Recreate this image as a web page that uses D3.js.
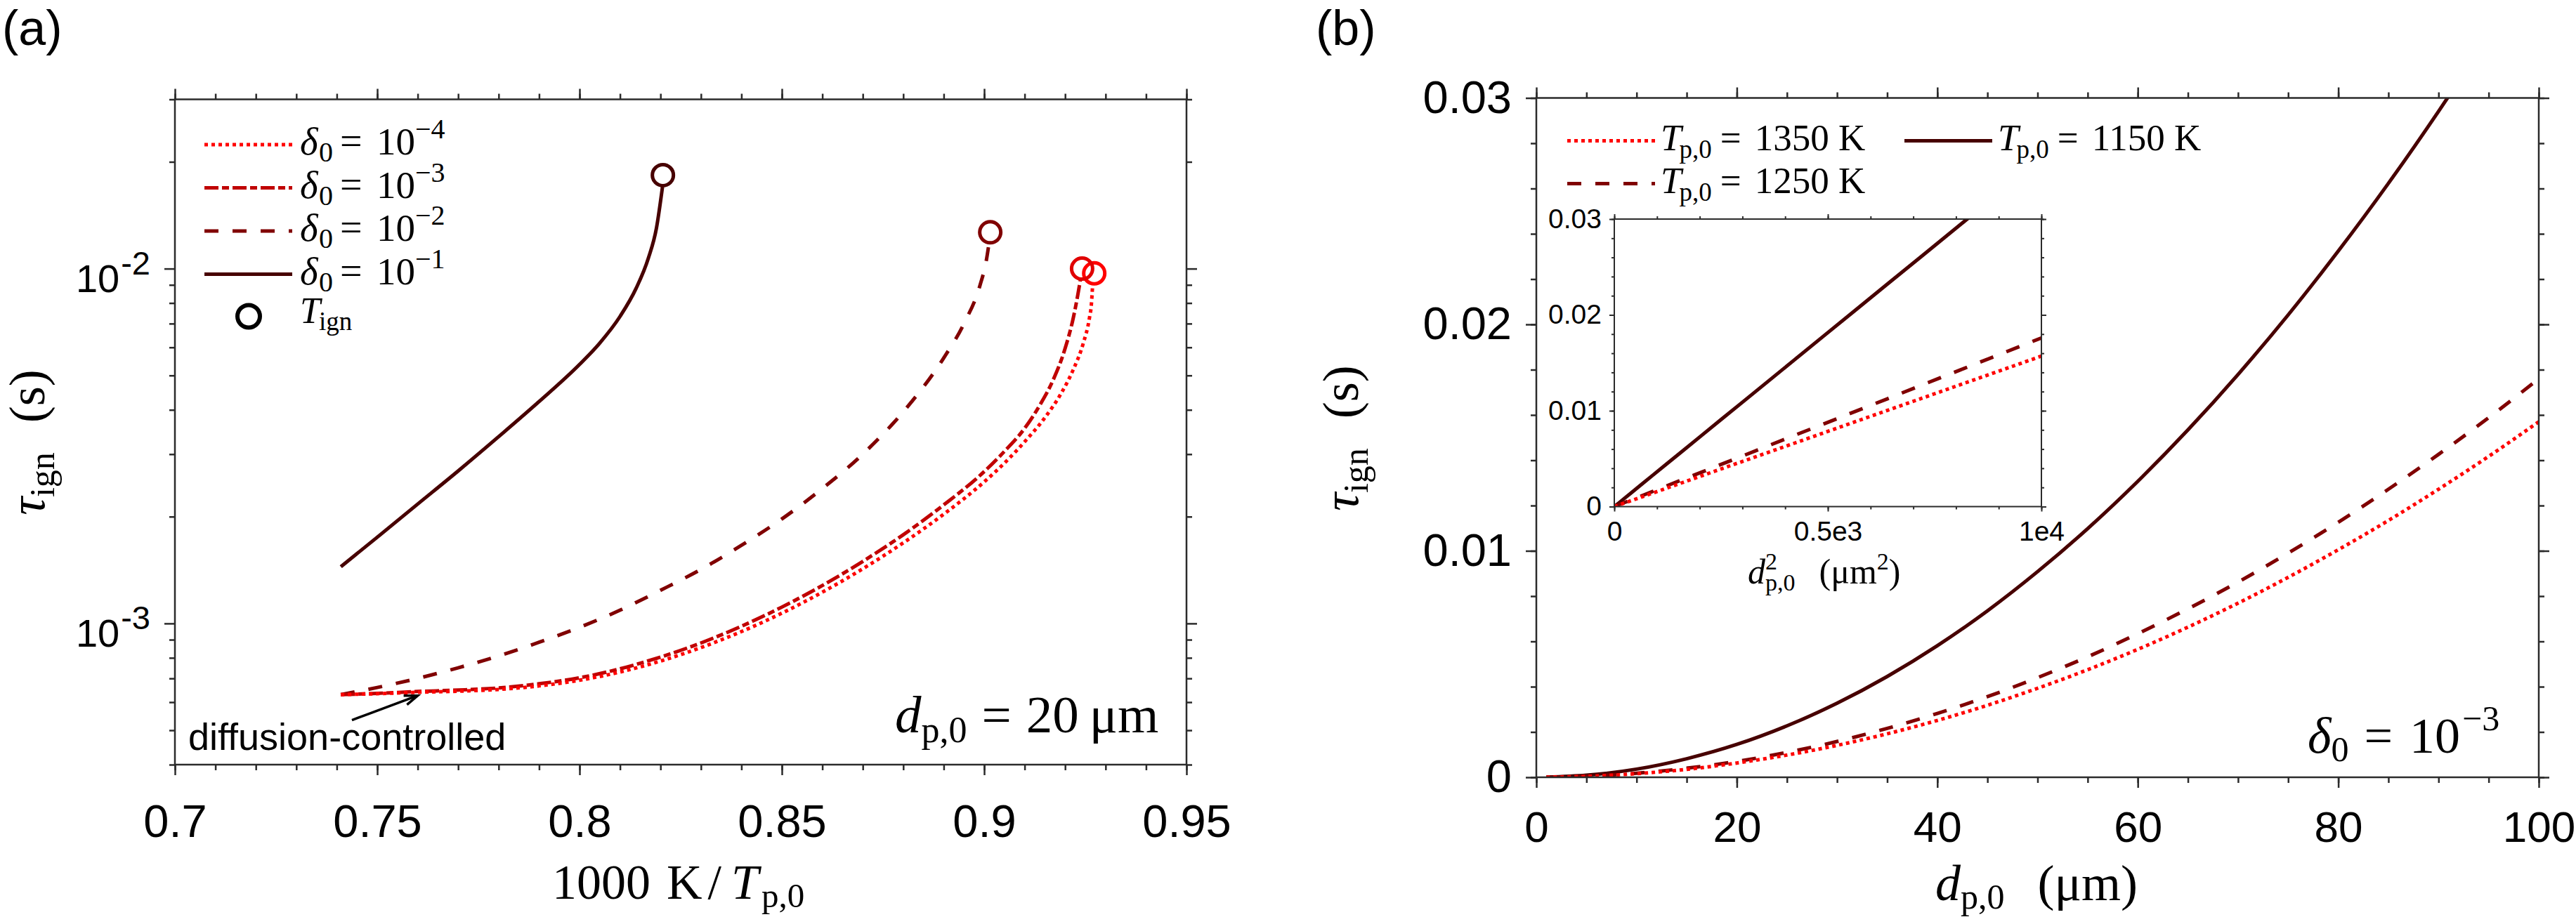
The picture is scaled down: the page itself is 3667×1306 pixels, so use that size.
<!DOCTYPE html>
<html><head><meta charset="utf-8">
<script src="https://cdn.jsdelivr.net/npm/d3@7"></script>
<style>
html,body{margin:0;padding:0;background:#fff;}
svg{display:block;}
text{white-space:pre;}
</style></head><body>
<svg id="chart" width="3667" height="1306"></svg>
<script>
// ---------------- Panel (a): x = 1000 K / T_p,0, y = tau_ign (s), log ----------------
const aX_m4 = [0.741,0.75,0.76,0.77,0.78,0.79,0.80,0.81,0.82,0.83,0.84,0.85,0.86,0.87,0.88,0.89,0.90,0.905,0.91,0.915,0.919,0.922,0.9245,0.926,0.9265,0.9268];
const aY_m4 = [6.3e-4,6.339e-4,6.397e-4,6.442e-4,6.516e-4,6.668e-4,6.918e-4,7.295e-4,7.834e-4,8.551e-4,9.484e-4,1.069e-3,1.225e-3,1.426e-3,1.687e-3,2.032e-3,2.506e-3,2.831e-3,3.251e-3,3.802e-3,4.446e-3,5.188e-3,6.166e-3,7.244e-3,7.943e-3,8.995e-3];
const aX_m3 = [0.741,0.75,0.76,0.77,0.78,0.79,0.80,0.81,0.82,0.83,0.84,0.85,0.86,0.87,0.88,0.89,0.90,0.905,0.91,0.914,0.917,0.92,0.922,0.9232,0.9238];
const aY_m3 = [6.3e-4,6.353e-4,6.43e-4,6.49e-4,6.58e-4,6.76e-4,7.03e-4,7.45e-4,8.04e-4,8.81e-4,9.82e-4,1.112e-3,1.279e-3,1.496e-3,1.778e-3,2.158e-3,2.679e-3,3.055e-3,3.548e-3,4.169e-3,4.842e-3,5.957e-3,7.244e-3,8.511e-3,9.333e-3];
const aX_m2 = [0.741,0.75,0.76,0.77,0.78,0.79,0.80,0.81,0.82,0.83,0.84,0.85,0.86,0.87,0.88,0.89,0.895,0.899,0.9005,0.9012];
const aY_m2 = [6.3e-4,6.6e-4,7.0e-4,7.5e-4,8.1e-4,8.85e-4,9.75e-4,1.09e-3,1.24e-3,1.42e-3,1.66e-3,1.97e-3,2.4e-3,3.0e-3,3.95e-3,5.6e-3,7.0e-3,9.0e-3,1.05e-2,1.18e-2];
const aX_m1 = [0.741,0.75,0.76,0.77,0.78,0.79,0.80,0.805,0.81,0.814,0.817,0.819,0.8205];
const aY_m1 = [1.445e-3,1.75e-3,2.17e-3,2.69e-3,3.36e-3,4.22e-3,5.37e-3,6.17e-3,7.33e-3,8.81e-3,1.07e-2,1.30e-2,1.70e-2];
// ignition points (circles), order: 1e-4, 1e-3, 1e-2, 1e-1
const ignX = [0.9272, 0.9242, 0.9015, 0.8206];
const ignY = [9.7e-3, 1.0e-2, 1.266e-2, 1.834e-2];
const aLegendExp = ["−4","−3","−2","−1"];
const aXTicks = [0.7,0.75,0.8,0.85,0.9,0.95];
const aXTickLabels = ["0.7","0.75","0.8","0.85","0.9","0.95"];
const aXMinor = [0.70,0.71,0.72,0.73,0.74,0.75,0.76,0.77,0.78,0.79,0.80,0.81,0.82,0.83,0.84,0.85,0.86,0.87,0.88,0.89,0.90,0.91,0.92,0.93,0.94,0.95];
const aYTicks = [1e-3, 1e-2];
const aYTickExp = ["-3","-2"];
const aYMinor = [4e-4,5e-4,6e-4,7e-4,8e-4,9e-4,2e-3,3e-3,4e-3,5e-3,6e-3,7e-3,8e-3,9e-3,2e-2,3e-2];

// ---------------- Panel (b): x = d_p,0 (um), y = tau_ign (s) ----------------
const bD = [1,5,10,15,20,25,30,35,40,45,50,55,60,65,70,75,80,85,90,95,100];
const b1350 = [0.000002,0.00004,0.00016,0.00035,0.00063,0.00098,0.00141,0.00192,0.00251,0.00318,0.00393,0.00475,0.00565,0.00663,0.00769,0.00883,0.01005,0.01134,0.01272,0.01417,0.0157];
const b1250 = [0.000002,0.00004,0.00018,0.0004,0.0007,0.0011,0.00158,0.00216,0.00282,0.00356,0.0044,0.00532,0.00634,0.00744,0.00862,0.0099,0.01126,0.01272,0.01426,0.01588,0.0176];
const b1150 = [0.000004,0.00009,0.00036,0.00082,0.00145,0.00227,0.00327,0.00445,0.00581,0.00735,0.00908,0.01098,0.01307,0.01534,0.01779,0.02042,0.02324,0.02623,0.02941,0.03277,0.03631];
const bXTicks = [0,20,40,60,80,100];
const bXMinor = [0,5,10,15,20,25,30,35,40,45,50,55,60,65,70,75,80,85,90,95,100];
const bYTicks = [0,0.01,0.02,0.03];
const bYTickLabels = ["0","0.01","0.02","0.03"];
const bYMinor = [0,0.002,0.004,0.006,0.008,0.01,0.012,0.014,0.016,0.018,0.02,0.022,0.024,0.026,0.028,0.03];
const iXTicks = [0,5000,10000];
const iXTickLabels = ["0","0.5e3","1e4"];
const iXMinor = [0,1000,2000,3000,4000,5000,6000,7000,8000,9000,10000];

// ---------------- styles ----------------
const SANS = "'Liberation Sans', Arial, sans-serif";
const SERIF = "'Liberation Serif', 'Times New Roman', serif";
const AXC = "#2b2b2b";
const COL = {m4:"#ff0000", m3:"#c00000", m2:"#800000", m1:"#470000"};
const DASH = {dot:"5,5", dashdot:"20,5,10,5", dash:"20,20", solid:null};
const LW = 5;

const svg = d3.select("#chart");
svg.append("rect").attr("width",3667).attr("height",1306).attr("fill","#fff");

function rich(sel, parts) {
  let cur = 0;
  parts.forEach(p => {
    const ts = sel.append("tspan").text(p.t).attr("font-size", p.s);
    if (p.i) ts.attr("font-style","italic");
    const sh = p.sh || 0;
    if (sh - cur !== 0) ts.attr("dy", sh - cur);
    cur = sh;
    if (p.x !== undefined) ts.attr("x", p.x);
    if (p.dx) ts.attr("dx", p.dx);
  });
  return sel;
}

function axes(g, xs, ys, box, cfg) {
  const st = s => { s.select(".domain").remove(); s.selectAll("line").attr("stroke", AXC).attr("stroke-width", cfg.tw); };
  const sides = [
    [d3.axisBottom, xs, `translate(0,${box.b})`, cfg.xMinor, cfg.xMajor],
    [d3.axisTop, xs, `translate(0,${box.t})`, cfg.xMinor, cfg.xMajor],
    [d3.axisLeft, ys, `translate(${box.l},0)`, cfg.yMinor, cfg.yMajor],
    [d3.axisRight, ys, `translate(${box.r},0)`, cfg.yMinor, cfg.yMajor]];
  sides.forEach(([fn, sc, tr, mn, mj]) => {
    g.append("g").attr("transform", tr).call(fn(sc).tickValues(mn).tickSize(cfg.minorLen).tickFormat("")).call(st);
    g.append("g").attr("transform", tr).call(fn(sc).tickValues(mj).tickSize(cfg.majorLen).tickFormat("")).call(st);
  });
  g.append("rect").attr("x",box.l).attr("y",box.t).attr("width",box.r-box.l).attr("height",box.b-box.t)
    .attr("fill","none").attr("stroke",AXC).attr("stroke-width",cfg.fw);
}
function styleLabels(s, fs) {
  s.select(".domain").remove();
  s.selectAll("line").remove();
  s.selectAll("text").attr("font-family", SANS).attr("font-size", fs).attr("fill", "#000");
}

// ======================= PANEL (a) =======================
const A = {l:249, r:1689, t:141.5, b:1089};
const xA = d3.scaleLinear().domain([0.7,0.95]).range([A.l,A.r]);
const yA = d3.scaleLog().domain([4e-4,3e-2]).range([A.b,A.t]);
const gA = svg.append("g");

svg.append("text").attr("x",3).attr("y",64).attr("font-family",SANS).attr("font-size",70).text("(a)");

const lineA = d3.line().x(d=>xA(d[0])).y(d=>yA(d[1])).curve(d3.curveMonotoneX);
const seriesA = [
  {x:aX_m1, y:aY_m1, c:COL.m1, d:DASH.solid},
  {x:aX_m2, y:aY_m2, c:COL.m2, d:DASH.dash},
  {x:aX_m3, y:aY_m3, c:COL.m3, d:DASH.dashdot},
  {x:aX_m4, y:aY_m4, c:COL.m4, d:DASH.dot}];
seriesA.forEach(s => {
  gA.append("path").datum(s.x.map((v,i)=>[v,s.y[i]])).attr("d", lineA)
    .attr("fill","none").attr("stroke",s.c).attr("stroke-width",LW).attr("stroke-dasharray",s.d);
});
const ignCol = [COL.m4, "#e00000", COL.m2, COL.m1];
gA.selectAll("circle.ign").data(ignX).join("circle").attr("class","ign")
  .attr("cx",d=>xA(d)).attr("cy",(d,i)=>yA(ignY[i])).attr("r",15)
  .attr("fill","none").attr("stroke",(d,i)=>ignCol[i]).attr("stroke-width",5);

axes(gA, xA, yA, A, {xMinor:aXMinor, xMajor:aXTicks, yMinor:aYMinor, yMajor:aYTicks, minorLen:8, majorLen:15, tw:2.5, fw:2.5});
gA.append("g").attr("transform",`translate(0,${A.b})`)
  .call(d3.axisBottom(xA).tickValues(aXTicks).tickSize(0).tickPadding(57).tickFormat((d,i)=>aXTickLabels[i]))
  .call(s=>styleLabels(s,65));
aYTicks.forEach((v,i) => {
  const t = gA.append("text").attr("x",A.l-35).attr("y",yA(v)+33).attr("text-anchor","end")
    .attr("font-family",SANS).attr("fill","#000");
  rich(t, [{t:"10", s:56}, {t:aYTickExp[i], s:47, sh:-25, dx:2}]);
});

// axis titles (a)
rich(gA.append("text").attr("x",786).attr("y",1280).attr("font-family",SERIF),
  [{t:"1000", s:70}, {t:"K", s:70, dx:23}, {t:"/", s:70, dx:8}, {t:"T", s:70, i:1, dx:14}, {t:"p,0", s:49, sh:12, dx:4}]);
rich(gA.append("text").attr("transform",`translate(63,630) rotate(-90)`).attr("text-anchor","middle").attr("font-family",SERIF),
  [{t:"τ", s:72, i:1}, {t:"ign", s:50, sh:14}, {t:"(s)", s:72, sh:0, dx:42}]);

// legend (a)
const legA = gA.append("g");
const legRowsA = [seriesA[3], seriesA[2], seriesA[1], seriesA[0]];
const LX = A.l + 178;
legRowsA.forEach((s,i) => {
  const y = A.t + 64.5 + i*61.5;
  legA.append("line").attr("x1",A.l+42).attr("x2",A.l+167).attr("y1",y).attr("y2",y)
    .attr("stroke",s.c).attr("stroke-width",LW).attr("stroke-dasharray",s.d);
  rich(legA.append("text").attr("x",LX).attr("y",y+14).attr("font-family",SERIF),
    [{t:"δ", s:55, i:1, x:LX}, {t:"0", s:40, sh:10, x:LX+27}, {t:"=", s:56, sh:0, x:LX+57},
     {t:"10", s:55, x:LX+109}, {t:aLegendExp[i], s:40, sh:-23, x:LX+164}]);
});
legA.append("circle").attr("cx",A.l+105).attr("cy",A.t+309).attr("r",16).attr("fill","none").attr("stroke","#000").attr("stroke-width",6);
rich(legA.append("text").attr("x",LX).attr("y",A.t+318).attr("font-family",SERIF),
  [{t:"T", s:52, i:1}, {t:"ign", s:37, sh:10, dx:-2}]);

// annotations (a)
const arrS = [0.74375, 5.34e-4], arrE = [0.760, 6.26e-4];
const ax1 = xA(arrS[0]), ay1 = yA(arrS[1]), ax2 = xA(arrE[0]), ay2 = yA(arrE[1]);
const ang = Math.atan2(ay2-ay1, ax2-ax1);
gA.append("line").attr("x1",ax1).attr("y1",ay1).attr("x2",ax2).attr("y2",ay2).attr("stroke","#000").attr("stroke-width",3.5);
const hl = 20, hw = 0.35;
gA.append("path").attr("d",`M${ax2-hl*Math.cos(ang-hw)},${ay2-hl*Math.sin(ang-hw)}L${ax2},${ay2}L${ax2-hl*Math.cos(ang+hw)},${ay2-hl*Math.sin(ang+hw)}`)
  .attr("fill","none").attr("stroke","#000").attr("stroke-width",3.5);
gA.append("text").attr("x",xA(0.7033)).attr("y",yA(4.40e-4)).attr("font-family",SANS).attr("font-size",54).text("diffusion-controlled");
rich(gA.append("text").attr("x",A.r-415).attr("y",A.b-46).attr("font-family",SERIF),
  [{t:"d", s:75, i:1}, {t:"p,0", s:52, sh:14}, {t:"=", s:75, sh:0, dx:21}, {t:"20", s:75, dx:21}, {t:"μm", s:75, dx:15}]);

// ======================= PANEL (b) =======================
const B = {l:2187, r:3614, t:139.5, b:1107};
const xB = d3.scaleLinear().domain([0,100]).range([B.l,B.r]);
const yB = d3.scaleLinear().domain([0,0.03]).range([B.b,B.t]);
const gB = svg.append("g");
svg.append("text").attr("x",1873).attr("y",64).attr("font-family",SANS).attr("font-size",70).text("(b)");

const defs = svg.append("defs");
defs.append("clipPath").attr("id","clipB").append("rect").attr("x",B.l).attr("y",B.t).attr("width",B.r-B.l).attr("height",B.b-B.t);
const seriesB = [
  {y:b1350, c:COL.m4, d:DASH.dot, T:"1350"},
  {y:b1250, c:COL.m2, d:DASH.dash, T:"1250"},
  {y:b1150, c:COL.m1, d:DASH.solid, T:"1150"}];
const lineB = d3.line().x(d=>xB(d[0])).y(d=>yB(d[1])).curve(d3.curveMonotoneX);
const gBc = gB.append("g").attr("clip-path","url(#clipB)");
[seriesB[2], seriesB[1], seriesB[0]].forEach(s => {
  gBc.append("path").datum(bD.map((v,i)=>[v,s.y[i]])).attr("d",lineB)
    .attr("fill","none").attr("stroke",s.c).attr("stroke-width",LW).attr("stroke-dasharray",s.d);
});
axes(gB, xB, yB, B, {xMinor:bXMinor, xMajor:bXTicks, yMinor:bYMinor, yMajor:bYTicks, minorLen:8, majorLen:15, tw:2.5, fw:2.5});
gB.append("g").attr("transform",`translate(0,${B.b})`)
  .call(d3.axisBottom(xB).tickValues(bXTicks).tickSize(0).tickPadding(48).tickFormat(d=>String(d)))
  .call(s=>styleLabels(s,62));
gB.append("g").attr("transform",`translate(${B.l},0)`)
  .call(d3.axisLeft(yB).tickValues(bYTicks).tickSize(0).tickPadding(35).tickFormat((d,i)=>bYTickLabels[i]))
  .call(s=>styleLabels(s,65));

rich(gB.append("text").attr("x",2755).attr("y",1282).attr("font-family",SERIF),
  [{t:"d", s:72, i:1}, {t:"p,0", s:50, sh:12}, {t:"(μm)", s:72, sh:0, dx:47}]);
rich(gB.append("text").attr("transform",`translate(1933,624) rotate(-90)`).attr("text-anchor","middle").attr("font-family",SERIF),
  [{t:"τ", s:72, i:1}, {t:"ign", s:50, sh:14}, {t:"(s)", s:72, sh:0, dx:42}]);

// legend (b)
const legPos = [[B.l+44, B.t+61], [B.l+44, B.t+122], [B.l+524, B.t+61]];
seriesB.forEach((s,i) => {
  const [x0,y] = legPos[i];
  gB.append("line").attr("x1",x0).attr("x2",x0+125).attr("y1",y).attr("y2",y)
    .attr("stroke",s.c).attr("stroke-width",LW).attr("stroke-dasharray",s.d);
  rich(gB.append("text").attr("x",x0+133).attr("y",y+13).attr("font-family",SERIF),
    [{t:"T", s:53, i:1}, {t:"p,0", s:37, sh:11, dx:-3}, {t:"=", s:53, sh:0, dx:12}, {t:s.T+" K", s:53, dx:19}]);
});
rich(gB.append("text").attr("x",B.r-329).attr("y",B.b-35).attr("font-family",SERIF),
  [{t:"δ", s:72, i:1}, {t:"0", s:50, sh:12}, {t:"=", s:72, sh:0, dx:22}, {t:"10", s:72, dx:24}, {t:"−3", s:50, sh:-32, dx:3}]);

// ======================= INSET =======================
const I = {l:2298, r:2906, t:312, b:721.5};
const xI = d3.scaleLinear().domain([0,10000]).range([I.l,I.r]);
const yI = d3.scaleLinear().domain([0,0.03]).range([I.b,I.t]);
const gI = svg.append("g");
gI.append("rect").attr("x",I.l).attr("y",I.t).attr("width",I.r-I.l).attr("height",I.b-I.t).attr("fill","#fff");
defs.append("clipPath").attr("id","clipI").append("rect").attr("x",I.l).attr("y",I.t).attr("width",I.r-I.l).attr("height",I.b-I.t);
const lineI = d3.line().x(d=>xI(d[0]*d[0])).y(d=>yI(d[1]));
const gIc = gI.append("g").attr("clip-path","url(#clipI)");
[seriesB[2], seriesB[1], seriesB[0]].forEach(s => {
  gIc.append("path").datum(bD.map((v,i)=>[v,s.y[i]])).attr("d",lineI)
    .attr("fill","none").attr("stroke",s.c).attr("stroke-width",LW).attr("stroke-dasharray",s.d);
});
axes(gI, xI, yI, I, {xMinor:iXMinor, xMajor:iXTicks, yMinor:bYMinor, yMajor:bYTicks, minorLen:4, majorLen:7, tw:2, fw:2});
gI.append("g").attr("transform",`translate(0,${I.b})`)
  .call(d3.axisBottom(xI).tickValues(iXTicks).tickSize(0).tickPadding(21).tickFormat((d,i)=>iXTickLabels[i]))
  .call(s=>styleLabels(s,39));
gI.append("g").attr("transform",`translate(${I.l},0)`)
  .call(d3.axisLeft(yI).tickValues(bYTicks).tickSize(0).tickPadding(18).tickFormat((d,i)=>bYTickLabels[i]))
  .call(s=>styleLabels(s,39));
rich(gI.append("text").attr("x",2488).attr("y",831).attr("font-family",SERIF),
  [{t:"d", s:50, i:1}, {t:"2", s:34, sh:-20}, {t:"p,0", s:34, sh:10, dx:-17}, {t:"(μm", s:50, sh:0, dx:34}, {t:"2", s:34, sh:-20}, {t:")", s:50, sh:0}]);
</script>
</body></html>
